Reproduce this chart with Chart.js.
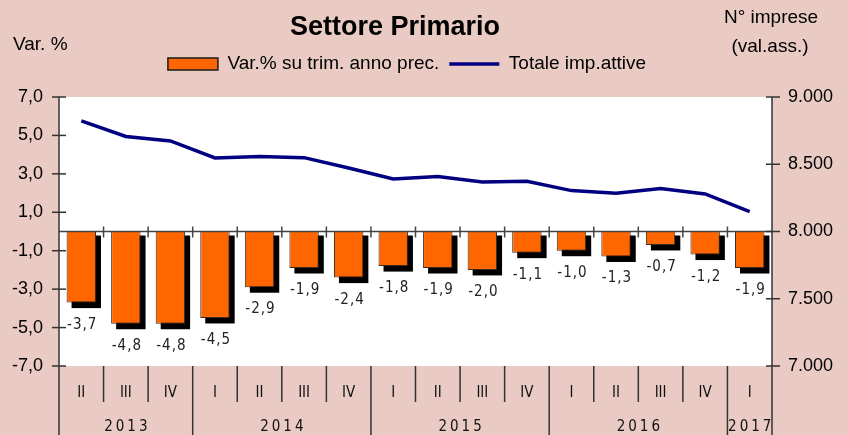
<!DOCTYPE html>
<html><head><meta charset="utf-8">
<script src="https://cdn.jsdelivr.net/npm/chart.js@4/dist/chart.umd.min.js"></script>
<style>html,body{margin:0;padding:0;background:#E9CBC4;}canvas{display:block;}</style>
</head><body>
<canvas id="c" width="848" height="435"></canvas>
<script>
// ---- data ----
const quarters = ['II','III','IV','I','II','III','IV','I','II','III','IV','I','II','III','IV','I'];
const years = ['2013','2014','2015','2016','2017'];
const varPct = [-3.7,-4.8,-4.8,-4.5,-2.9,-1.9,-2.4,-1.8,-1.9,-2.0,-1.1,-1.0,-1.3,-0.7,-1.2,-1.9];
const totaleImprese = [8822,8707,8673,8547,8558,8549,8472,8391,8408,8368,8374,8304,8285,8319,8279,8148];
const leftTickRange = [-7, 7, 2];
const rightTickRange = [7000, 9000, 500];
const titleText = 'Settore Primario';
const seriesNames = ['Var.% su trim. anno prec.', 'Totale imp.attive'];
const leftAxisTitle = 'Var. %';
const rightAxisTitle = ['N° imprese', '(val.ass.)'];

// ---- styling ----
const NARROW = "'Liberation Sans Narrow','Arial Narrow','DejaVu Sans Condensed',sans-serif";
const SANS = "'Liberation Sans',Arial,sans-serif";
const BG = '#E9CBC4';
const ORANGE = '#FF6600';
const NAVY = '#000080';
const fmtPct = v => v.toFixed(1).replace('.', ',');
const fmtThousands = v => String(v).replace(/\B(?=(\d{3})+(?!\d))/g, '.');

function line(ctx, x1, y1, x2, y2){ ctx.beginPath(); ctx.moveTo(x1,y1); ctx.lineTo(x2,y2); ctx.stroke(); }

const decor = {
  id: 'decor',
  afterLayout(chart){
    // center the legend row over the left part of the figure, as in the original
    const L = chart.legend;
    if (L) { L.right = L.left + 814; L.width = 814; }
  },
  beforeDraw(chart){
    const {ctx, chartArea:a, width, height} = chart;
    ctx.save();
    ctx.fillStyle = BG; ctx.fillRect(0,0,width,height);
    ctx.fillStyle = '#fff'; ctx.fillRect(a.left, a.top, a.right-a.left, a.bottom-a.top);
    ctx.restore();
  },
  beforeDatasetsDraw(chart){
    const ctx = chart.ctx;
    const meta = chart.getDatasetMeta(0);
    ctx.save();
    ctx.fillStyle = '#000';
    meta.data.forEach(el => {
      const top = Math.min(el.y, el.base), bot = Math.max(el.y, el.base);
      ctx.fillRect(el.x - el.width/2 + 5, top + 4, el.width, bot - top + 1.5);
    });
    ctx.restore();
  },
  afterDatasetsDraw(chart){
    const {ctx, chartArea:a, scales} = chart;
    const xs = scales.x, ys = scales.y;
    ctx.save();
    const y0 = ys.getPixelForValue(0);
    ctx.strokeStyle = '#444'; ctx.lineWidth = 1.5;
    line(ctx, a.left, y0, a.right, y0);
    for (let k = 1; k < quarters.length; k++){
      const bx = (xs.getPixelForValue(k-1) + xs.getPixelForValue(k)) / 2;
      line(ctx, bx, y0-5, bx, y0+6);
    }
    const meta = chart.getDatasetMeta(0);
    ctx.fillStyle = '#222';
    ctx.font = '15px ' + NARROW;
    ctx.textAlign = 'center'; ctx.textBaseline = 'alphabetic';
    ctx.letterSpacing = '1px';
    meta.data.forEach((el, i) => {
      ctx.fillText(fmtPct(varPct[i]), el.x + 1, Math.max(el.y, el.base) + 26);
    });
    ctx.restore();
  },
  afterDraw(chart){
    const {ctx, chartArea:a, scales, height} = chart;
    const xs = scales.x, ys = scales.y, y2 = scales.y2;
    ctx.save();
    ctx.strokeStyle = '#333'; ctx.lineWidth = 1.5;
    line(ctx, a.left, a.top, a.left, height);
    line(ctx, a.right, a.top, a.right, height);
    for (let v = leftTickRange[0]; v <= leftTickRange[1]; v += leftTickRange[2]){
      const py = ys.getPixelForValue(v); line(ctx, a.left-7, py, a.left+7, py);
    }
    for (let v = rightTickRange[0]; v <= rightTickRange[1]; v += rightTickRange[2]){
      const py = y2.getPixelForValue(v); line(ctx, a.right-6, py, a.right+8, py);
    }
    const starts = [0];
    for (let k = 1; k < quarters.length; k++){
      const bx = (xs.getPixelForValue(k-1) + xs.getPixelForValue(k)) / 2;
      const isYear = quarters[k] === 'I';
      if (isYear) starts.push(k);
      line(ctx, bx, a.bottom, bx, isYear ? height : a.bottom + 36);
    }
    ctx.fillStyle = '#111';
    ctx.font = '15px ' + NARROW;
    ctx.textAlign = 'center'; ctx.textBaseline = 'alphabetic';
    ctx.letterSpacing = '3px';
    starts.forEach((s, j) => {
      const e = j + 1 < starts.length ? starts[j+1] : quarters.length;
      const l = s === 0 ? a.left : (xs.getPixelForValue(s-1) + xs.getPixelForValue(s)) / 2;
      const r = e === quarters.length ? a.right : (xs.getPixelForValue(e-1) + xs.getPixelForValue(e)) / 2;
      ctx.fillText(years[j], (l + r) / 2 + 1.5, 431);
    });
    ctx.letterSpacing = '0px';
    ctx.fillStyle = '#000';
    ctx.font = 'bold 27px ' + SANS;
    ctx.fillText(titleText, 395, 35);
    ctx.font = '19px ' + SANS;
    ctx.textAlign = 'left';
    ctx.fillText(leftAxisTitle, 13, 50);
    ctx.textAlign = 'center';
    ctx.fillText(rightAxisTitle[0], 771, 23);
    ctx.fillText(rightAxisTitle[1], 770, 52);
    ctx.restore();
  }
};

new Chart(document.getElementById('c'), {
  type: 'bar',
  data: {
    labels: quarters,
    datasets: [
      { type: 'bar', label: seriesNames[0], data: varPct, yAxisID: 'y', xAxisID: 'x',
        backgroundColor: ORANGE, borderColor: '#3a2a20', borderWidth: 1,
        barPercentage: 0.66, categoryPercentage: 1, order: 2 },
      { type: 'line', label: seriesNames[1], data: totaleImprese, yAxisID: 'y2', xAxisID: 'x',
        borderColor: NAVY, backgroundColor: NAVY, borderWidth: 3.5, pointRadius: 0,
        tension: 0, order: 1 }
    ]
  },
  options: {
    responsive: false, animation: false, devicePixelRatio: 1, events: [],
    layout: { padding: { top: 44.5, left: 0, right: 0, bottom: 0 } },
    plugins: {
      tooltip: { enabled: false },
      title: { display: false },
      legend: {
        display: true, position: 'top', align: 'center',
        labels: {
          usePointStyle: true, pointStyleWidth: 50, boxHeight: 12, padding: 10,
          color: '#000', font: { family: SANS, size: 19 },
          generateLabels: () => [
            { text: seriesNames[0], fillStyle: ORANGE, strokeStyle: '#1a1a1a', lineWidth: 1.5, pointStyle: 'rect', datasetIndex: 0, hidden: false, fontColor: '#000' },
            { text: seriesNames[1], fillStyle: NAVY, strokeStyle: NAVY, lineWidth: 3.5, pointStyle: 'line', datasetIndex: 1, hidden: false, fontColor: '#000' }
          ]
        }
      }
    },
    scales: {
      x: {
        type: 'category', position: 'bottom', offset: true,
        grid: { display: false, drawTicks: false }, border: { display: false },
        ticks: { color: '#111', font: { family: NARROW, size: 15 }, padding: 18, maxRotation: 0, autoSkip: false },
        afterFit: s => { s.height = 69; }
      },
      xTop: {
        type: 'category', position: 'top', display: true, offset: true,
        grid: { display: false, drawTicks: false }, border: { display: false }, ticks: { display: false },
        afterFit: s => { s.height = 13.5; }
      },
      y: {
        type: 'linear', position: 'left', min: leftTickRange[0], max: leftTickRange[1],
        grid: { display: false, drawTicks: false }, border: { display: false },
        ticks: { stepSize: leftTickRange[2], color: '#000', font: { family: SANS, size: 18 }, padding: 16, callback: v => fmtPct(v) },
        afterFit: s => { s.width = 59; }
      },
      y2: {
        type: 'linear', position: 'right', min: rightTickRange[0], max: rightTickRange[1],
        grid: { display: false, drawTicks: false }, border: { display: false },
        ticks: { stepSize: rightTickRange[2], color: '#000', font: { family: SANS, size: 18 }, padding: 16, callback: v => fmtThousands(v) },
        afterFit: s => { s.width = 76; }
      }
    }
  },
  plugins: [decor]
});
</script>
</body></html>
